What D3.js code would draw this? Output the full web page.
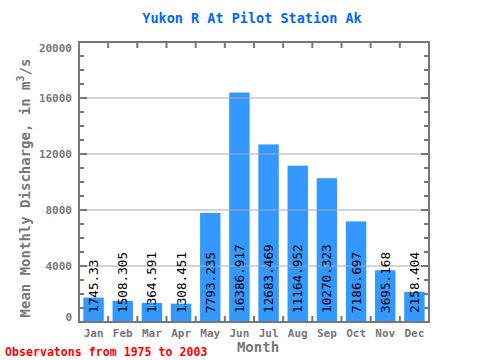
<!DOCTYPE html>
<html><head><meta charset="utf-8">
<script src="https://cdn.jsdelivr.net/npm/d3@7"></script>
<style>body{margin:0;background:#fff}svg{display:block}</style>
</head><body>
<script>
const months = ["Jan","Feb","Mar","Apr","May","Jun","Jul","Aug","Sep","Oct","Nov","Dec"];
const values = [1745.33,1508.305,1364.591,1308.451,7793.235,16386.917,12683.469,11164.952,10270.323,7186.697,3695.168,2158.404];
const valueLabels = ["1745.33","1508.305","1364.591","1308.451","7793.235","16386.917","12683.469","11164.952","10270.323","7186.697","3695.168","2158.404"];
const yTicks = [0,4000,8000,12000,16000,20000];

const W=480,H=360;
const L=79,R=429,T=42,B=322;
const mono="'DejaVu Sans Mono', 'Liberation Mono', monospace";
const gray="#777";
const svg=d3.select("body").append("svg").attr("width",W).attr("height",H);

const x=d3.scaleBand().domain(months).range([L,R]).paddingInner(0.3).paddingOuter(0.15);
const xb=d3.scaleBand().domain(months).range([L,R]);
const y=d3.scaleLinear().domain([0,20000]).range([B,T]);

// bars
svg.append("g").selectAll("rect").data(values).join("rect")
  .attr("x",(d,i)=>x(months[i])).attr("width",x.bandwidth())
  .attr("y",d=>y(d)).attr("height",d=>B-y(d)).attr("fill","#3399ff");

// gridlines
svg.append("g").selectAll("line").data(yTicks.filter(t=>t>0&&t<20000)).join("line")
  .attr("x1",L).attr("x2",R).attr("y1",d=>y(d)).attr("y2",d=>y(d))
  .attr("stroke","#aaa").attr("stroke-width",1);

// minor ticks left/right
const minor=d3.range(0,20001,1000);
svg.append("g").selectAll("line").data(minor).join("line")
  .attr("x1",L).attr("x2",d=>L+(d%4000===0?8:5)).attr("y1",d=>y(d)).attr("y2",d=>y(d))
  .attr("stroke",gray).attr("stroke-width",2);
svg.append("g").selectAll("line").data(minor).join("line")
  .attr("x1",R).attr("x2",d=>R-(d%4000===0?8:5)).attr("y1",d=>y(d)).attr("y2",d=>y(d))
  .attr("stroke",gray).attr("stroke-width",2);
// top/bottom ticks at band boundaries
const bounds=months.slice(1).map(m=>xb(m));
svg.append("g").selectAll("line").data(bounds).join("line")
  .attr("x1",d=>d).attr("x2",d=>d).attr("y1",T).attr("y2",T+6).attr("stroke",gray).attr("stroke-width",2);
svg.append("g").selectAll("line").data(bounds).join("line")
  .attr("x1",d=>d).attr("x2",d=>d).attr("y1",B).attr("y2",B-6).attr("stroke",gray).attr("stroke-width",2);

// frame
svg.append("rect").attr("x",L).attr("y",T).attr("width",R-L).attr("height",B-T)
  .attr("fill","none").attr("stroke",gray).attr("stroke-width",2);

// value labels
svg.append("g").selectAll("text").data(values).join("text")
  .attr("transform",(d,i)=>`translate(${x(months[i])+x.bandwidth()/2+4.5},${B-9}) rotate(-90)`)
  .attr("font-family",mono).attr("font-size",12.7).attr("fill","#000")
  .text((d,i)=>valueLabels[i]);

// y tick labels
svg.append("g").selectAll("text").data(yTicks).join("text")
  .attr("x",72).attr("y",d=>Math.max(52,Math.min(321,y(d)+4))).attr("text-anchor","end")
  .attr("font-family",mono).attr("font-weight","bold").attr("font-size",11).attr("fill",gray)
  .text(d=>d);

// x tick labels
svg.append("g").selectAll("text").data(months).join("text")
  .attr("x",d=>xb(d)+xb.bandwidth()/2).attr("y",337).attr("text-anchor","middle")
  .attr("font-family",mono).attr("font-weight","bold").attr("font-size",11).attr("fill",gray)
  .text(d=>d);

// title
svg.append("text").attr("x",252).attr("y",23).attr("text-anchor","middle")
  .attr("font-family",mono).attr("font-weight","bold").attr("font-size",13.5).attr("fill","#0066ff")
  .text("Yukon R At Pilot Station Ak");

// x title
svg.append("text").attr("x",258).attr("y",352).attr("text-anchor","middle")
  .attr("font-family",mono).attr("font-weight","bold").attr("font-size",14).attr("fill",gray)
  .text("Month");

// y title
const yt=svg.append("text").attr("transform","translate(30,188) rotate(-90)").attr("text-anchor","middle")
  .attr("font-family",mono).attr("font-weight","bold").attr("font-size",14).attr("fill",gray);
yt.append("tspan").text("Mean Monthly Discharge, in  m");
yt.append("tspan").attr("dy",-6).attr("font-size",10).text("3");
yt.append("tspan").attr("dy",6).text("/s");

// footer
svg.append("text").attr("x",5).attr("y",356)
  .attr("font-family",mono).attr("font-weight","bold").attr("font-size",11.6).attr("fill","#ff0000")
  .text("Observatons from 1975 to 2003");
</script>
</body></html>
